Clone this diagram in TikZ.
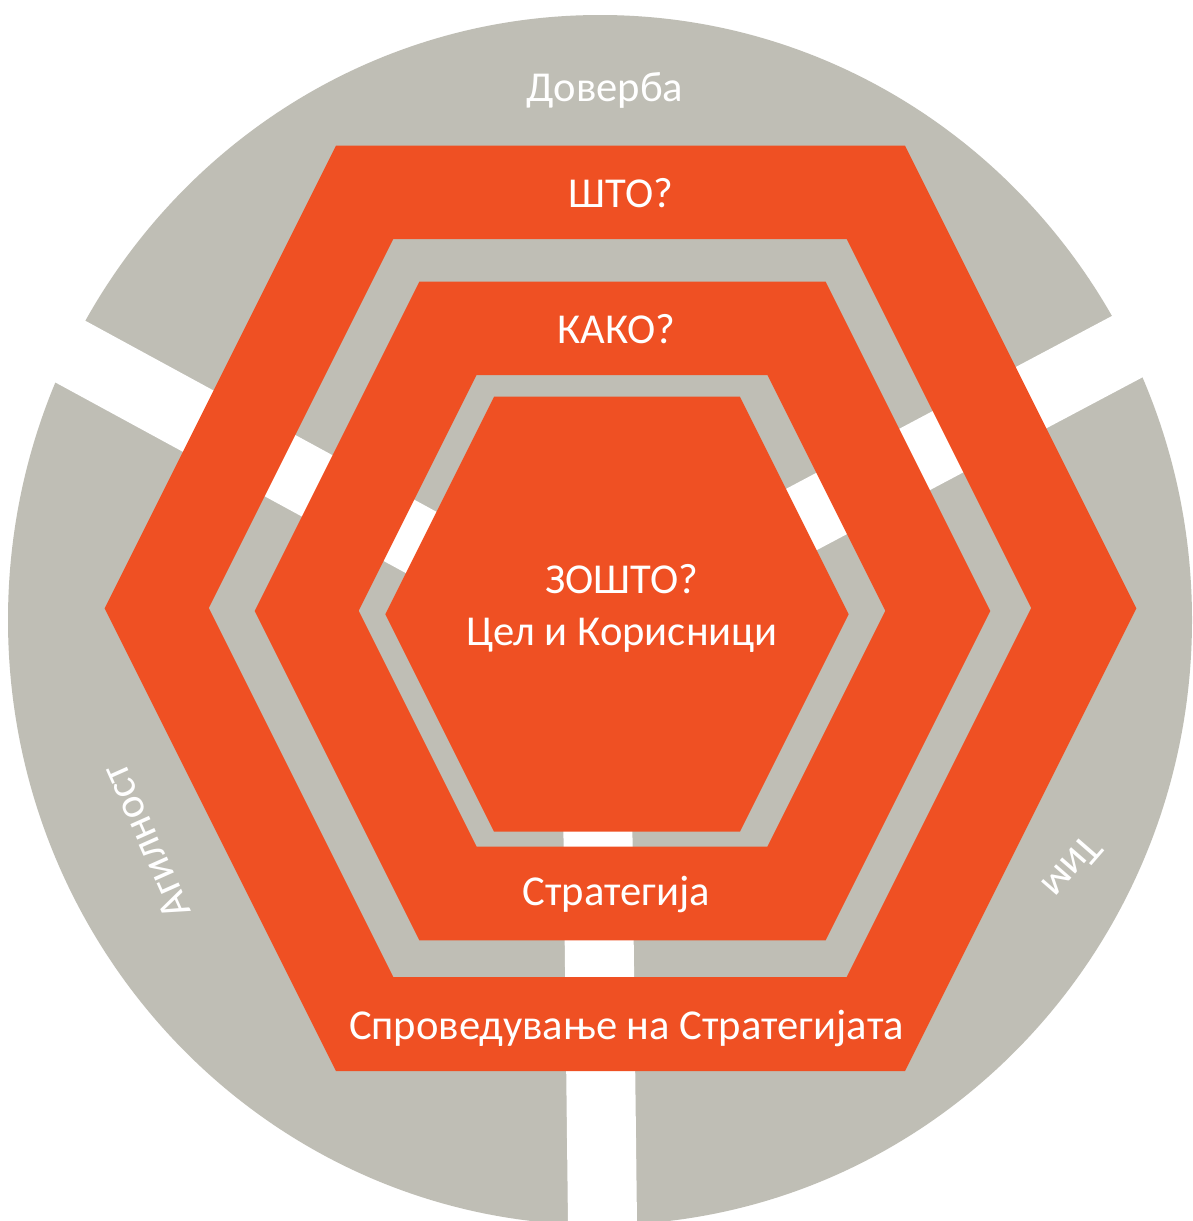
\documentclass[tikz,border=0pt]{standalone}
\usepackage{fontspec}
\setmainfont{Carlito}
\definecolor{hexorange}{RGB}{239,80,35}
\definecolor{ringgray}{RGB}{191,190,181}
\newcommand{\hexagonpath}[4]{({#1-#4-0.5*#3},{#2}) -- ({#1-#4},{#2-#3}) -- ({#1+#4},{#2-#3}) -- ({#1+#4+0.5*#3},{#2}) -- ({#1+#4},{#2+#3}) -- ({#1-#4},{#2+#3}) -- cycle}
\tikzset{
  lbl/.style={text=white, font=\fontsize{42.6}{51}\selectfont, inner sep=0pt},
  spoke/.style={draw=white, line width=68.5pt, line cap=butt},
  orangefill/.style={fill=hexorange, draw=none, even odd rule},
}
\begin{document}
\begin{tikzpicture}[x=1pt, y=-1pt]
\useasboundingbox (0,0) rectangle (1192,1221);
\fill[white] (0,0) rectangle (1192,1221);
\clip (0,0) rectangle (1192,1221);
% gray disc
\fill[ringgray] (600,620) ellipse [x radius=592, y radius=605];
% white spokes
\draw[spoke] (595,637) -- (-30,297);
\draw[spoke] (595,629) -- (1250,281.5);
\draw[spoke, line width=69pt] (595.8,650) -- (602.8,1250);
% orange outer ring
\path[orangefill] \hexagonpath{620.5}{608.3}{462.7}{284.5} \hexagonpath{620}{608}{369}{226.7};
% orange middle ring
\path[orangefill] \hexagonpath{622.5}{611}{329.3}{203.2} \hexagonpath{622}{610.8}{235.8}{145.4};
% inner orange hexagon
\path[orangefill] \hexagonpath{617}{614.2}{217.5}{122.9};
% labels
\node[lbl, anchor=base] (doverba) at (605,101.7) {Доверба};
\node[lbl, anchor=base] (shto) at (620.7,207.3) {ШТО?};
\node[lbl, anchor=base] (kako) at (616.7,343.3) {КАКО?};
\node[lbl, anchor=base] (zoshto) at (622,593.3) {ЗОШТО?};
\node[lbl, anchor=base] (cel) at (622,645) {Цел и Корисници};
\node[lbl, anchor=base] (strat) at (616.3,905) {Стратегија};
\node[lbl, anchor=base] (sprov) at (626.5,1039) {Спроведување на Стратегијата};
\node[lbl, anchor=center, rotate=114] (agil) at (145.7,841.7) {Агилност};
\node[lbl, anchor=center, rotate=229] (tim) at (1072.3,867.3) {Тим};
\end{tikzpicture}
\end{document}
